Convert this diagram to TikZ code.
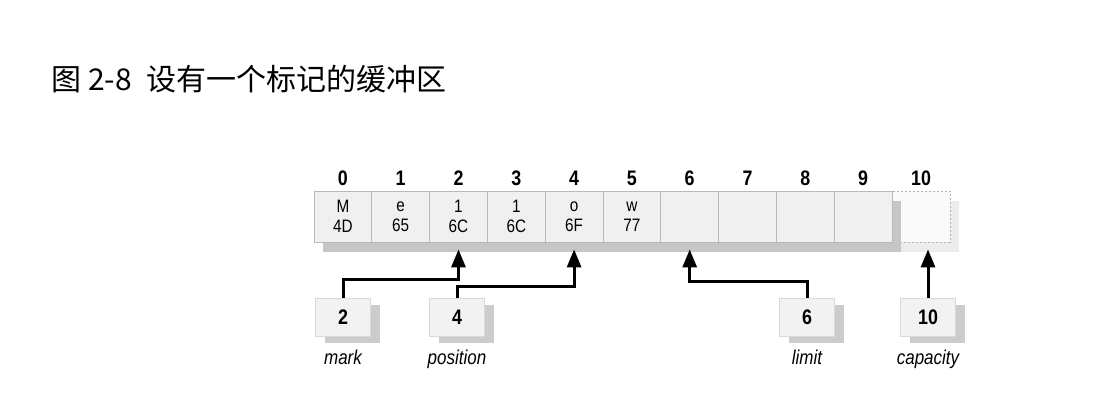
\documentclass[tikz,border=0pt]{standalone}
\usepackage{fontspec}
\usepackage{tikz}
\usetikzlibrary{arrows.meta, positioning, shadows}
\newfontfamily\cjkfont{Noto Sans CJK SC}
\newfontfamily\figfont[FakeStretch=0.85]{Liberation Sans}

\tikzset{
  cell/.style={draw=gray!55, fill=gray!12, minimum width=28.9pt, minimum height=25.5pt,
    inner sep=0pt, align=center, font=\figfont\fontsize{9}{10}\selectfont,
    drop shadow={shadow xshift=4.5pt, shadow yshift=-5pt, opacity=1, fill=gray!45}},
  idx/.style={inner sep=0pt, text height=7.6pt, text depth=0pt,
    font=\figfont\bfseries\fontsize{10.5}{12}\selectfont},
  regbox/.style={draw=gray!30, fill=gray!10, minimum width=27.5pt, minimum height=19pt,
    inner sep=0pt, font=\figfont\bfseries\fontsize{10.5}{12}\selectfont,
    drop shadow={shadow xshift=4.5pt, shadow yshift=-3.5pt, opacity=1, fill=gray!40}},
  tag/.style={inner sep=0pt, text height=7pt, text depth=2pt,
    font=\figfont\itshape\fontsize{10}{12}\selectfont},
  ptr/.style={line width=1.5pt, -{Triangle[length=9pt,width=7pt]}}
}

\begin{document}
\begin{tikzpicture}[x=0.5pt, y=-0.5pt]
\useasboundingbox (0,0) rectangle (1104,405);

\node[anchor=west, inner sep=0pt] (title) at (51,79)
  {\cjkfont\fontsize{15}{15}\selectfont 图 2-8\hspace{7.5pt}设有一个标记的缓冲区};

% empty slot past the end
\node[cell, draw=gray!60, fill=gray!4, dash pattern=on 1pt off 1pt,
  drop shadow={shadow xshift=4.5pt, shadow yshift=-5pt, opacity=1, fill=gray!15}]
  (c10) at (921,216.5) {};
\node[idx, above=2.5pt of c10] (i10) {10};

\foreach \i/\ltr/\hexv in {0/M/4D, 1/e/65, 2/1/6C, 3/1/6C, 4/o/6F, 5/w/77, 6//, 7//, 8//, 9//} {
  \node[cell] (c\i) at ({342.9+57.8*\i},216.5) {\ltr\\\hexv};
  \node[idx, above=2.5pt of c\i] (i\i) {\i};
}

\node[regbox] (markbox) at (343,317) {2};
\node[regbox] (posbox) at (457,317) {4};
\node[regbox] (limbox) at (807,317) {6};
\node[regbox] (capbox) at (928,317) {10};

\node[tag, below=7pt of markbox] (marktag) {mark};
\node[tag, below=7pt of posbox] (postag) {position};
\node[tag, below=7pt of limbox] (limtag) {limit};
\node[tag, below=7pt of capbox] (captag) {capacity};

\draw[ptr] (markbox.north) -- ++(0,-18) -| ([yshift=-3.5pt]c2.south);
\draw[ptr] (posbox.north) -- ++(0,-11) -| ([yshift=-3.5pt]c4.south);
\draw[ptr] (limbox.north) -- ++(0,-16) -| ([yshift=-3.5pt]c6.south);
\draw[ptr] (capbox.north) -- ([yshift=-3.5pt]capbox.north |- c10.south);
\end{tikzpicture}
\end{document}
